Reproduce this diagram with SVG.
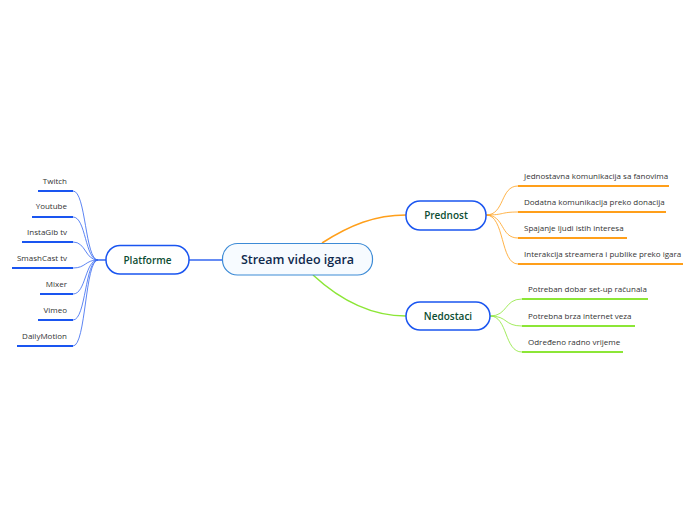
<svg xmlns="http://www.w3.org/2000/svg" width="696" height="520" viewBox="0 0 696 520">
<style>
.leaf{font-family:"Open Sans","Noto Sans",sans-serif;font-size:8px;fill:#333}
.mid{font-family:"Open Sans","Noto Sans",sans-serif;font-size:10px;font-weight:600;fill:#0b4d32}
.main{font-family:"Open Sans","Noto Sans",sans-serif;font-size:12.5px;font-weight:600;fill:#102a4d}
.box{fill:#fff;stroke:#1a55f0;stroke-width:1.5}
.ob{stroke:#ff9f1a;fill:none}
.gb{stroke:#8ce636;fill:none}
.bb{stroke:#3366f0;fill:none}
</style>
<rect width="696" height="520" fill="#fff"/>
<g id="connectors">
<path class="ob" stroke-width="1.5" d="M322,243 C350,225 375,215 406,215"/>
<path class="gb" stroke-width="1.5" d="M313,275 C340,300 370,316 406,316"/>
<path class="bb" stroke-width="1.5" d="M189,260 L223,260"/>
<path class="bb" stroke-width="1.5" d="M98,260 L106,260"/>
<path class="bb" stroke-width="0.8" d="M98,260 C85,260 86,191 73,191"/>
<path class="bb" stroke-width="0.8" d="M98,260 C85,260 86,217 73,217"/>
<path class="bb" stroke-width="0.8" d="M98,260 C85,260 86,242 73,242"/>
<path class="bb" stroke-width="0.8" d="M98,260 C85,260 86,268 73,268"/>
<path class="bb" stroke-width="0.8" d="M98,260 C85,260 86,294 73,294"/>
<path class="bb" stroke-width="0.8" d="M98,260 C85,260 86,320 73,320"/>
<path class="bb" stroke-width="0.8" d="M98,260 C85,260 86,346 73,346"/>
<path class="ob" stroke-width="0.8" d="M486,215 C505,215 500,186 518,186"/>
<path class="ob" stroke-width="0.8" d="M486,215 C505,215 500,212 518,212"/>
<path class="ob" stroke-width="0.8" d="M486,215 C505,215 500,238 518,238"/>
<path class="ob" stroke-width="0.8" d="M486,215 C505,215 500,264 518,264"/>
<path class="gb" stroke-width="0.8" d="M490,316 C508,316 504,299 522,299"/>
<path class="gb" stroke-width="0.8" d="M490,316 C508,316 504,326 522,326"/>
<path class="gb" stroke-width="0.8" d="M490,316 C508,316 504,352 522,352"/>
</g>
<g id="central">
<rect x="222.5" y="243.5" width="150" height="31.5" rx="15" fill="#f7fbff" stroke="#3d8bd6" stroke-width="1.2"/>
<text class="main" x="297.5" y="264" text-anchor="middle">Stream video igara</text>
</g>
<g id="platforme">
<rect class="box" x="106" y="245.5" width="83" height="28.5" rx="14"/>
<text class="mid" x="147.5" y="264" text-anchor="middle">Platforme</text>
</g>
<g id="prednost">
<rect class="box" x="406" y="201" width="80" height="29" rx="14"/>
<text class="mid" x="446" y="219" text-anchor="middle">Prednost</text>
</g>
<g id="nedostaci">
<rect class="box" x="406" y="302" width="84" height="28" rx="14"/>
<text class="mid" x="448" y="320" text-anchor="middle">Nedostaci</text>
</g>
<g id="twitch"><text class="leaf" x="67" y="184" text-anchor="end">Twitch</text><path d="M38,191H73" stroke="#1a55f0" stroke-width="2"/></g>
<g id="youtube"><text class="leaf" x="67" y="209" text-anchor="end">Youtube</text><path d="M32,217H73" stroke="#1a55f0" stroke-width="2"/></g>
<g id="instagib"><text class="leaf" x="67" y="235" text-anchor="end">InstaGib tv</text><path d="M22,242H73" stroke="#1a55f0" stroke-width="2"/></g>
<g id="smashcast"><text class="leaf" x="67" y="261" text-anchor="end">SmashCast tv</text><path d="M12,268H73" stroke="#1a55f0" stroke-width="2"/></g>
<g id="mixer"><text class="leaf" x="67" y="287" text-anchor="end">Mixer</text><path d="M40,294H73" stroke="#1a55f0" stroke-width="2"/></g>
<g id="vimeo"><text class="leaf" x="67" y="313" text-anchor="end">Vimeo</text><path d="M38,320H73" stroke="#1a55f0" stroke-width="2"/></g>
<g id="dailymotion"><text class="leaf" x="67" y="339" text-anchor="end">DailyMotion</text><path d="M17,346H73" stroke="#1a55f0" stroke-width="2"/></g>
<g id="p1"><text class="leaf" x="524" y="179">Jednostavna komunikacija sa fanovima</text><path d="M518,186H669" stroke="#ff9f1a" stroke-width="2"/></g>
<g id="p2"><text class="leaf" x="524" y="205">Dodatna komunikacija preko donacija</text><path d="M518,212H666" stroke="#ff9f1a" stroke-width="2"/></g>
<g id="p3"><text class="leaf" x="524" y="231">Spajanje ljudi istih interesa</text><path d="M518,238H627" stroke="#ff9f1a" stroke-width="2"/></g>
<g id="p4"><text class="leaf" x="524" y="257">Interakcija streamera i publike preko igara</text><path d="M518,264H683" stroke="#ff9f1a" stroke-width="2"/></g>
<g id="n1"><text class="leaf" x="528" y="292">Potreban dobar set-up računala</text><path d="M522,299H648" stroke="#8ce636" stroke-width="2"/></g>
<g id="n2"><text class="leaf" x="528" y="319">Potrebna brza internet veza</text><path d="M522,326H635" stroke="#8ce636" stroke-width="2"/></g>
<g id="n3"><text class="leaf" x="528" y="345">Određeno radno vrijeme</text><path d="M522,352H623" stroke="#8ce636" stroke-width="2"/></g>
</svg>
